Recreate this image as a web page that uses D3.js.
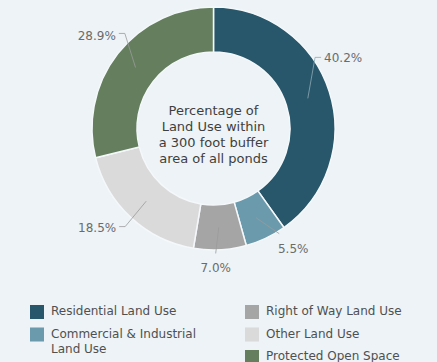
<!DOCTYPE html>
<html>
<head>
  <meta charset="utf-8">
  <title>Land Use within 300 foot buffer</title>
  <script src="https://d3js.org/d3.v7.min.js"></script>
  <style>
    body { margin: 0; background: #edf3f6; }
    svg { display: block; font-family: "DejaVu Sans", sans-serif; }
    .lbl { fill: #6b6b6b; font-size: 12px; }
    .center { fill: #3f3f3f; font-size: 13px; }
    .leg { fill: #505050; font-size: 12px; }
  </style>
</head>
<body>
  <div id="chart"></div>
  <script>
    // data
    var categories = ["Residential Land Use", "Commercial & Industrial\nLand Use", "Right of Way Land Use", "Other Land Use", "Protected Open Space"];
    var values = [40.2, 5.5, 7.0, 18.5, 28.9];
    var colors = ["#28566a", "#6b9aac", "#a5a5a5", "#dadada", "#647e5e"];
    var centerLines = ["Percentage of", "Land Use within", "a 300 foot buffer", "area of all ponds"];

    // label layout: elbow angle (deg) and radius
    var labelAngle = [55, 148, 179, 222, 317];
    var labelRadius = [124, 124, 125, 132, 130];

    var width = 437, height = 362;
    var cx = 213.5, cy = 128.5, rOuter = 121.5, rInner = 76.5;

    var svg = d3.select("#chart").append("svg")
      .attr("width", width).attr("height", height);

    var g = svg.append("g").attr("transform", "translate(" + cx + "," + cy + ")");

    var pie = d3.pie().sort(null).value(function(d) { return d; });
    var arcs = pie(values);
    var arc = d3.arc().innerRadius(rInner).outerRadius(rOuter);
    var midArc = d3.arc().innerRadius((rInner + rOuter) / 2).outerRadius((rInner + rOuter) / 2);

    g.selectAll("path.slice")
      .data(arcs)
      .enter().append("path")
      .attr("class", "slice")
      .attr("d", arc)
      .attr("fill", function(d, i) { return colors[i]; })
      .attr("stroke", "#f4f8fa")
      .attr("stroke-width", 1.5);

    // leader lines and labels
    arcs.forEach(function(d, i) {
      var c = midArc.centroid(d);
      var a = labelAngle[i] * Math.PI / 180;
      var ex = labelRadius[i] * Math.sin(a), ey = -labelRadius[i] * Math.cos(a);
      var txt = values[i].toFixed(1) + "%";
      var bottom = labelAngle[i] > 135 && labelAngle[i] < 200;
      var lineCol = i === 0 ? "#8fa9b5" : "#9a9a9a";
      if (bottom) {
        g.append("polyline")
          .attr("points", [c, [ex, ey]].join(" "))
          .attr("fill", "none").attr("stroke", lineCol).attr("stroke-width", 0.8);
        g.append("text").attr("class", "lbl")
          .attr("x", ex + (ex > 20 ? 14 : 0)).attr("y", ey + 19)
          .attr("text-anchor", "middle")
          .text(txt);
      } else {
        var dir = ex > 0 ? 1 : -1;
        g.append("polyline")
          .attr("points", [c, [ex, ey], [ex + dir * 6, ey]].join(" "))
          .attr("fill", "none").attr("stroke", lineCol).attr("stroke-width", 0.8);
        g.append("text").attr("class", "lbl")
          .attr("x", ex + dir * 9).attr("y", ey + (dir < 0 && ey < 0 ? 7 : 5))
          .attr("text-anchor", dir > 0 ? "start" : "end")
          .text(txt);
      }
    });

    // centre text
    g.append("text").attr("class", "center")
      .attr("text-anchor", "middle")
      .selectAll("tspan")
      .data(centerLines)
      .enter().append("tspan")
      .attr("x", 0)
      .attr("y", function(d, i) { return -14 + i * 16; })
      .text(function(d) { return d; });

    // legend: first two in left column, rest in right column
    var legX = [30, 245], legY0 = 305, rowH = 22.5;
    var leg = svg.append("g");
    categories.forEach(function(c, i) {
      var col = i < 2 ? 0 : 1;
      var row = i < 2 ? i : i - 2;
      var x = legX[col], y = legY0 + row * rowH;
      leg.append("rect")
        .attr("x", x).attr("y", y)
        .attr("width", 14).attr("height", 14)
        .attr("fill", colors[i]);
      var t = leg.append("text").attr("class", "leg");
      c.split("\n").forEach(function(line, k) {
        t.append("tspan")
          .attr("x", x + 21)
          .attr("y", y + 10 + k * 15)
          .text(line);
      });
    });
  </script>
</body>
</html>
